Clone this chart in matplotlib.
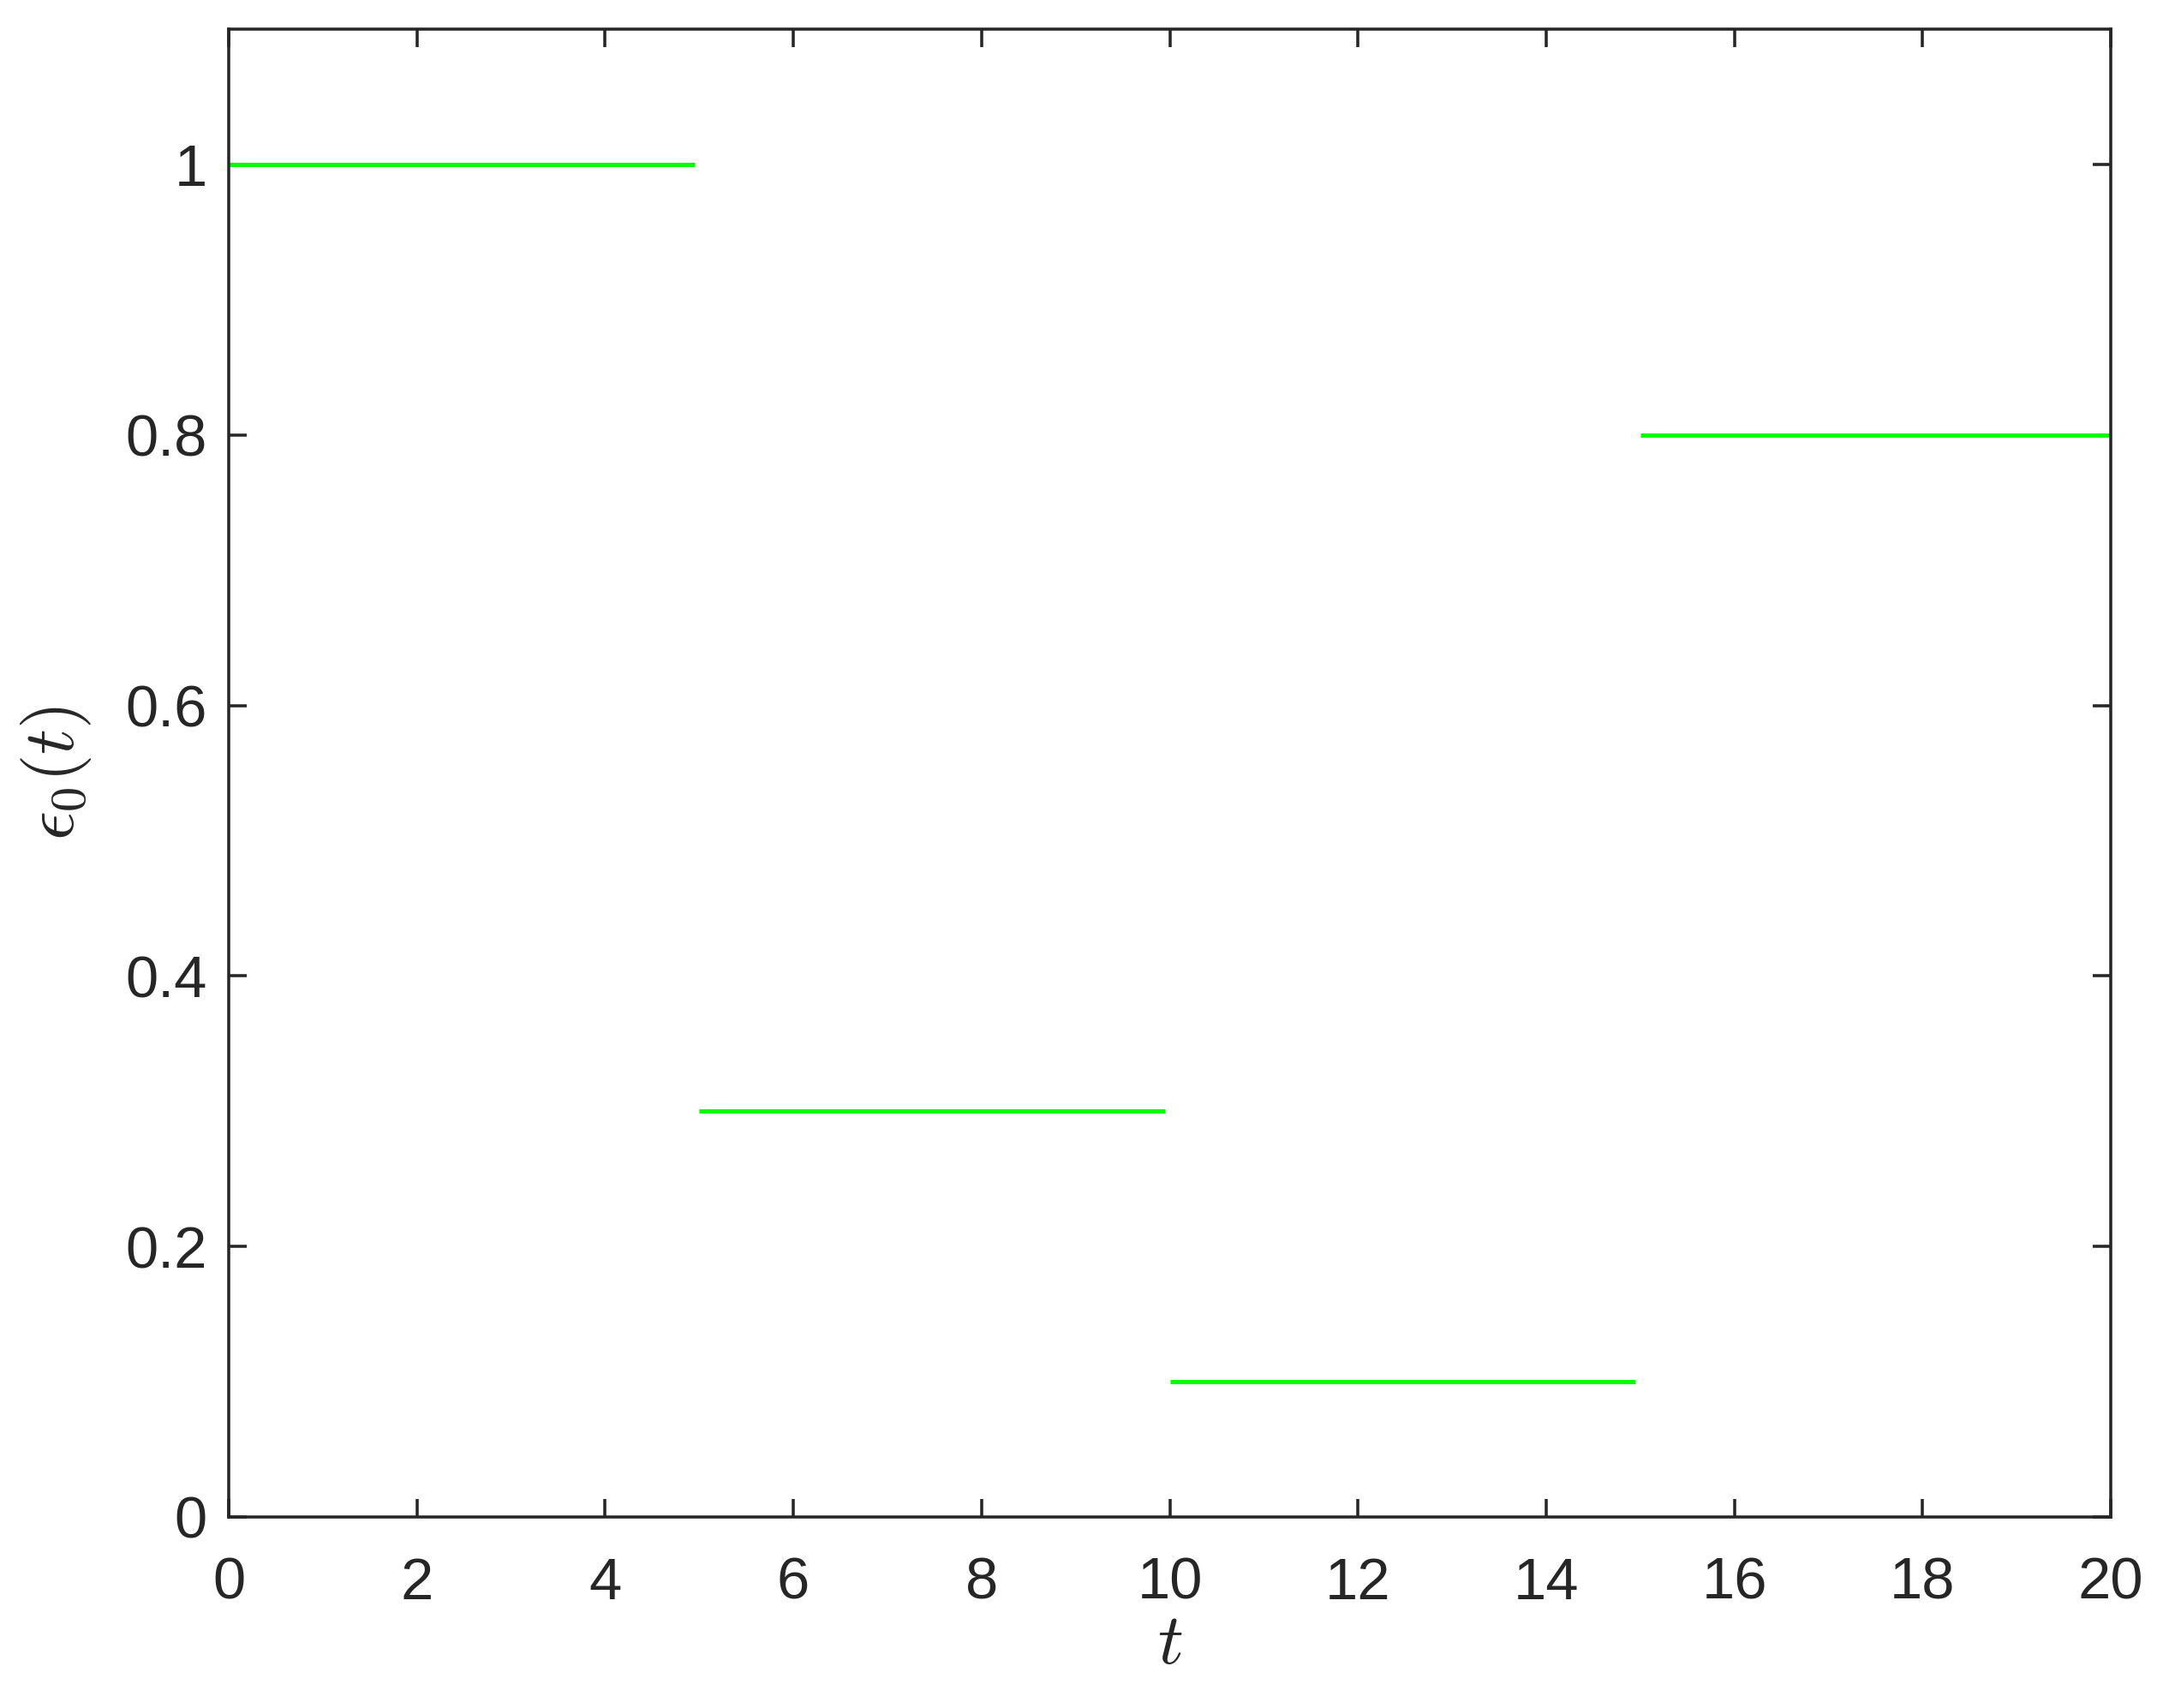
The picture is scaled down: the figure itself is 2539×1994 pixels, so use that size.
import matplotlib
matplotlib.use('Agg')
import matplotlib.pyplot as plt
import numpy as np

# piecewise constant eps_0(t)
seg_start = [0, 5, 10, 15]
seg_end = [4.95, 9.95, 14.95, 20]
seg_value = [1.0, 0.3, 0.1, 0.8]

xticks = [0, 2, 4, 6, 8, 10, 12, 14, 16, 18, 20]
yticks = [0, 0.2, 0.4, 0.6, 0.8, 1]
ytick_labels = ['0', '0.2', '0.4', '0.6', '0.8', '1']

plt.rcParams['mathtext.fontset'] = 'cm'
plt.rcParams['font.family'] = ['Liberation Sans', 'DejaVu Sans']

dpi = 300
fig = plt.figure(figsize=(2539 / dpi, 1994 / dpi), dpi=dpi)
ax = fig.add_axes([267 / 2539, 1 - 1771 / 1994, (2464 - 267) / 2539, (1771 - 34) / 1994])

for a, b, v in zip(seg_start, seg_end, seg_value):
    ax.plot([a, b], [v, v], color='#00ff00', linewidth=1.2, solid_capstyle='butt')

ax.set_xlim(0, 20)
ax.set_ylim(0, 1.1)
ax.set_xticks(xticks)
ax.set_yticks(yticks)
ax.set_yticklabels(ytick_labels)

dark = '#262626'
for s in ax.spines.values():
    s.set_color(dark)
    s.set_linewidth(0.85)
ax.tick_params(direction='in', length=5.0, width=0.85, colors=dark,
               labelsize=16.5, top=True, right=True)
ax.tick_params(axis='y', pad=6)
ax.tick_params(axis='x', pad=11)

ax.set_xlabel(r'$t$', fontsize=20, color=dark, labelpad=0)
ax.set_ylabel(r'$\epsilon_0(t)$', fontsize=20, color=dark, labelpad=9)

fig.savefig('out.png', dpi=dpi, facecolor='white')
